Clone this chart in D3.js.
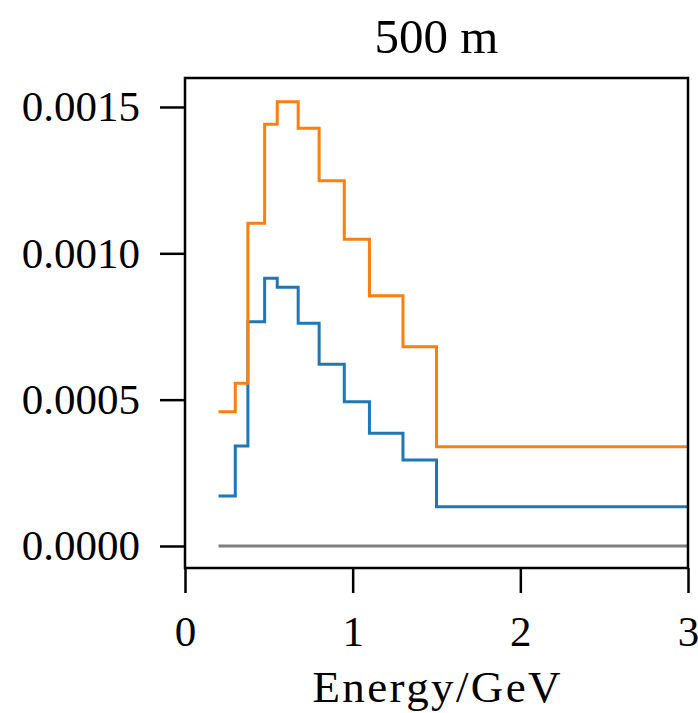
<!DOCTYPE html>
<html>
<head>
<meta charset="utf-8">
<script src="https://cdn.jsdelivr.net/npm/d3@7"></script>
<style>
  html, body { margin: 0; padding: 0; background: #fff; }
  svg { display: block; }
  text { font-family: "Liberation Serif", "Times New Roman", serif; fill: #000; }
</style>
</head>
<body>
<svg id="chart" width="698" height="713"></svg>
<script>
// Energy bin edges (GeV)
const binEdges = [0.2, 0.3, 0.375, 0.475, 0.55, 0.675, 0.8, 0.95, 1.1, 1.3, 1.5, 3.0];
// Per-bin values for each series
const seriesOrange = [0.000459, 0.000556, 0.001103, 0.001441, 0.001518, 0.001427, 0.001248, 0.001048, 0.000855, 0.000681, 0.000339];
const seriesBlue   = [0.000171, 0.000342, 0.000766, 0.000915, 0.000884, 0.000761, 0.000621, 0.000493, 0.000385, 0.000294, 0.000134];
const seriesZero   = [0, 0, 0, 0, 0, 0, 0, 0, 0, 0, 0];
const xTicks = [0, 1, 2, 3];
const yTicks = [0, 0.0005, 0.0010, 0.0015];
const title = "500 m";
const xLabel = "Energy/GeV";

const svg = d3.select("#chart");
const plotL = 185, plotR = 688, plotT = 78, plotB = 568;

const x = d3.scaleLinear().domain([0, 3]).range([plotL, plotR]);
const y = d3.scaleLinear().domain([-0.0000752, 0.001599]).range([plotB, plotT]);

svg.append("defs").append("clipPath").attr("id", "plotClip")
  .append("rect").attr("x", plotL).attr("y", plotT - 2)
  .attr("width", plotR - plotL + 2).attr("height", plotB - plotT + 4);

// Step histograms: each bin value held across [edge_i, edge_i+1]
function stepPoints(vals) {
  const pts = vals.map((v, i) => [binEdges[i], v]);
  pts.push([binEdges[binEdges.length - 1], vals[vals.length - 1]]);
  return pts;
}
const line = d3.line().x(d => x(d[0])).y(d => y(d[1])).curve(d3.curveStepAfter);

const g = svg.append("g").attr("clip-path", "url(#plotClip)");
[[seriesZero, "#7f7f7f"], [seriesBlue, "#1f77b4"], [seriesOrange, "#ff7f0e"]].forEach(([vals, color]) => {
  g.append("path")
    .attr("d", line(stepPoints(vals)))
    .attr("fill", "none")
    .attr("stroke", color)
    .attr("stroke-width", 3)
    .attr("stroke-linejoin", "miter");
});

// Axes
const tickLen = 25;
const xAxis = d3.axisBottom(x).tickValues(xTicks).tickFormat(d3.format("d"))
  .tickSizeInner(tickLen).tickSizeOuter(0);
const yAxis = d3.axisLeft(y).tickValues(yTicks).tickFormat(d3.format(".4f"))
  .tickSizeInner(tickLen).tickSizeOuter(0).tickPadding(20);

const gx = svg.append("g").attr("transform", `translate(0,${plotB})`).call(xAxis);
const gy = svg.append("g").attr("transform", `translate(${plotL},0)`).call(yAxis);
[gx, gy].forEach(a => {
  a.select(".domain").remove();
  a.selectAll(".tick line").attr("stroke", "#000").attr("stroke-width", 2.5);
  a.selectAll(".tick text").attr("font-family", "Liberation Serif, serif")
    .attr("font-size", 43).attr("fill", "#000");
});
// x tick labels sit on a baseline 78px below the bottom frame
gx.selectAll(".tick text").attr("y", 78).attr("dy", null);

// Frame
svg.append("rect").attr("x", plotL).attr("y", plotT)
  .attr("width", plotR - plotL).attr("height", plotB - plotT)
  .attr("fill", "none").attr("stroke", "#000").attr("stroke-width", 2.5);

// Title and axis label
svg.append("text").attr("x", (plotL + plotR) / 2).attr("y", 53)
  .attr("text-anchor", "middle").attr("font-size", 49).text(title);
svg.append("text").attr("x", (plotL + plotR) / 2).attr("y", 702)
  .attr("text-anchor", "middle").attr("font-size", 45)
  .attr("textLength", 248).attr("lengthAdjust", "spacing").text(xLabel);
</script>
</body>
</html>
